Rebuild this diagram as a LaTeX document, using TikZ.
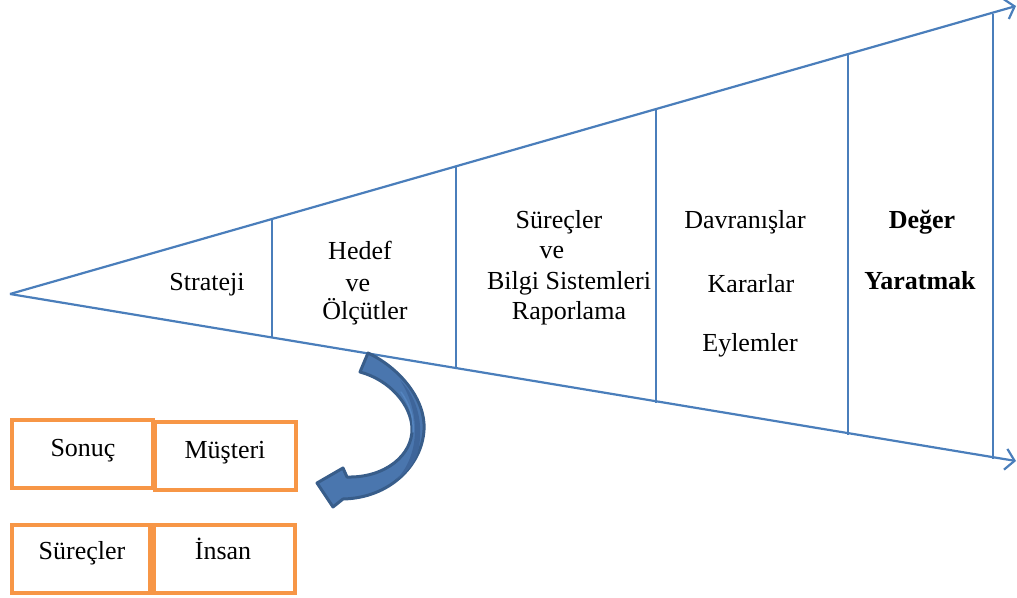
\documentclass[tikz,border=0pt]{standalone}
\usepackage{fontspec}
\setmainfont{Liberation Serif}
\newfontfamily\labelfont{Liberation Serif}
\usetikzlibrary{arrows.meta}
\definecolor{funnelblue}{HTML}{4A7EBB}
\definecolor{boxorange}{HTML}{F79646}
\definecolor{arrowfill}{HTML}{4A76AE}
\definecolor{arrowedge}{HTML}{385D8A}
\definecolor{arrowshade}{HTML}{3E659A}
\definecolor{arrowlight}{HTML}{5585C0}
\begin{document}
\begin{tikzpicture}[x=1pt,y=-1pt,
  funnel/.style={draw=funnelblue, line width=2.2pt},
  tipped/.style={funnel, -{Straight Barb[length=9pt,width=21pt,line width=2.2pt]}},
  divider/.style={draw=funnelblue, line width=2pt},
  txt/.style={font=\labelfont\fontsize{26}{31}\selectfont, inner sep=0pt, anchor=base},
  boldtxt/.style={txt, font=\labelfont\fontsize{26}{31}\selectfont\bfseries},
  box/.style={draw=boxorange, line width=4pt, minimum height=68pt, inner sep=0pt}]
\useasboundingbox (0,0) rectangle (1017,597);

% funnel outline
\coordinate (apex) at (10,294);
\coordinate (topend) at (1016,6);
\coordinate (botend) at (1016,461);
\draw[tipped] (apex) -- (topend);
\draw[tipped] (apex) -- (botend);

% section dividers
\coordinate (d1t) at (272,219); \coordinate (d1b) at (272,338);
\coordinate (d2t) at (456,167); \coordinate (d2b) at (456,369);
\coordinate (d3t) at (656,110); \coordinate (d3b) at (656,403);
\coordinate (d4t) at (848,55);  \coordinate (d4b) at (848,435);
\coordinate (d5t) at (993,14);  \coordinate (d5b) at (993,459);
\foreach \i in {1,...,5} \draw[divider] (d\i t) -- (d\i b);

% section labels
\node[txt] (strateji) at (207,290) {Strateji};
\node[txt] (hedef) at (360,259) {Hedef};
\node[txt] (ve1) at (358,291) {ve};
\node[txt] (olcut) at (365,319) {Ölçütler};
\node[txt] (surec) at (559,228) {Süreçler};
\node[txt] (ve2) at (552,258) {ve};
\node[txt] (bilgi) at (569,289) {Bilgi Sistemleri};
\node[txt] (rapor) at (569,319) {Raporlama};
\node[txt] (davran) at (745,228) {Davranışlar};
\node[txt] (karar) at (751,292) {Kararlar};
\node[txt] (eylem) at (750,351) {Eylemler};
\node[boldtxt] (deger) at (922,228) {Değer};
\node[boldtxt] (yarat) at (920,289) {Yaratmak};

% curved arrow
\path[draw=arrowedge, fill=arrowfill, line width=3pt, line join=round]
  (368,353) .. controls (400,368) and (426,400) .. (424,430)
  .. controls (422,465) and (390,498) .. (343,499)
  -- (333,507) -- (317,483) -- (343,468) -- (347,477)
  .. controls (385,478) and (413,455) .. (412,428)
  .. controls (411,405) and (390,380) .. (360,372) -- cycle;
% shading of the turned-over face
\path[fill=arrowshade]
  (400,380) .. controls (418,398) and (424,425) .. (418,452)
  .. controls (414,465) and (405,474) .. (396,480)
  .. controls (408,468) and (415,450) .. (415,430)
  .. controls (415,410) and (408,392) .. (400,380) -- cycle;
\draw[arrowlight, line width=1.5pt, line cap=round]
  (401,392) .. controls (410,405) and (414,418) .. (413,432);

% perspective boxes
\node[box, minimum width=141pt] (sonuc) at (82.5,454) {};
\node[box, minimum width=141pt] (musteri) at (225.5,456) {};
\node[box, minimum width=138pt] (surecler) at (81,559) {};
\node[box, minimum width=141pt] (insan) at (224.5,559) {};
\node[txt] at (83,456) {Sonuç};
\node[txt] at (225,458) {Müşteri};
\node[txt] at (82,559) {Süreçler};
\node[txt] at (223,559) {İnsan};
\end{tikzpicture}
\end{document}
